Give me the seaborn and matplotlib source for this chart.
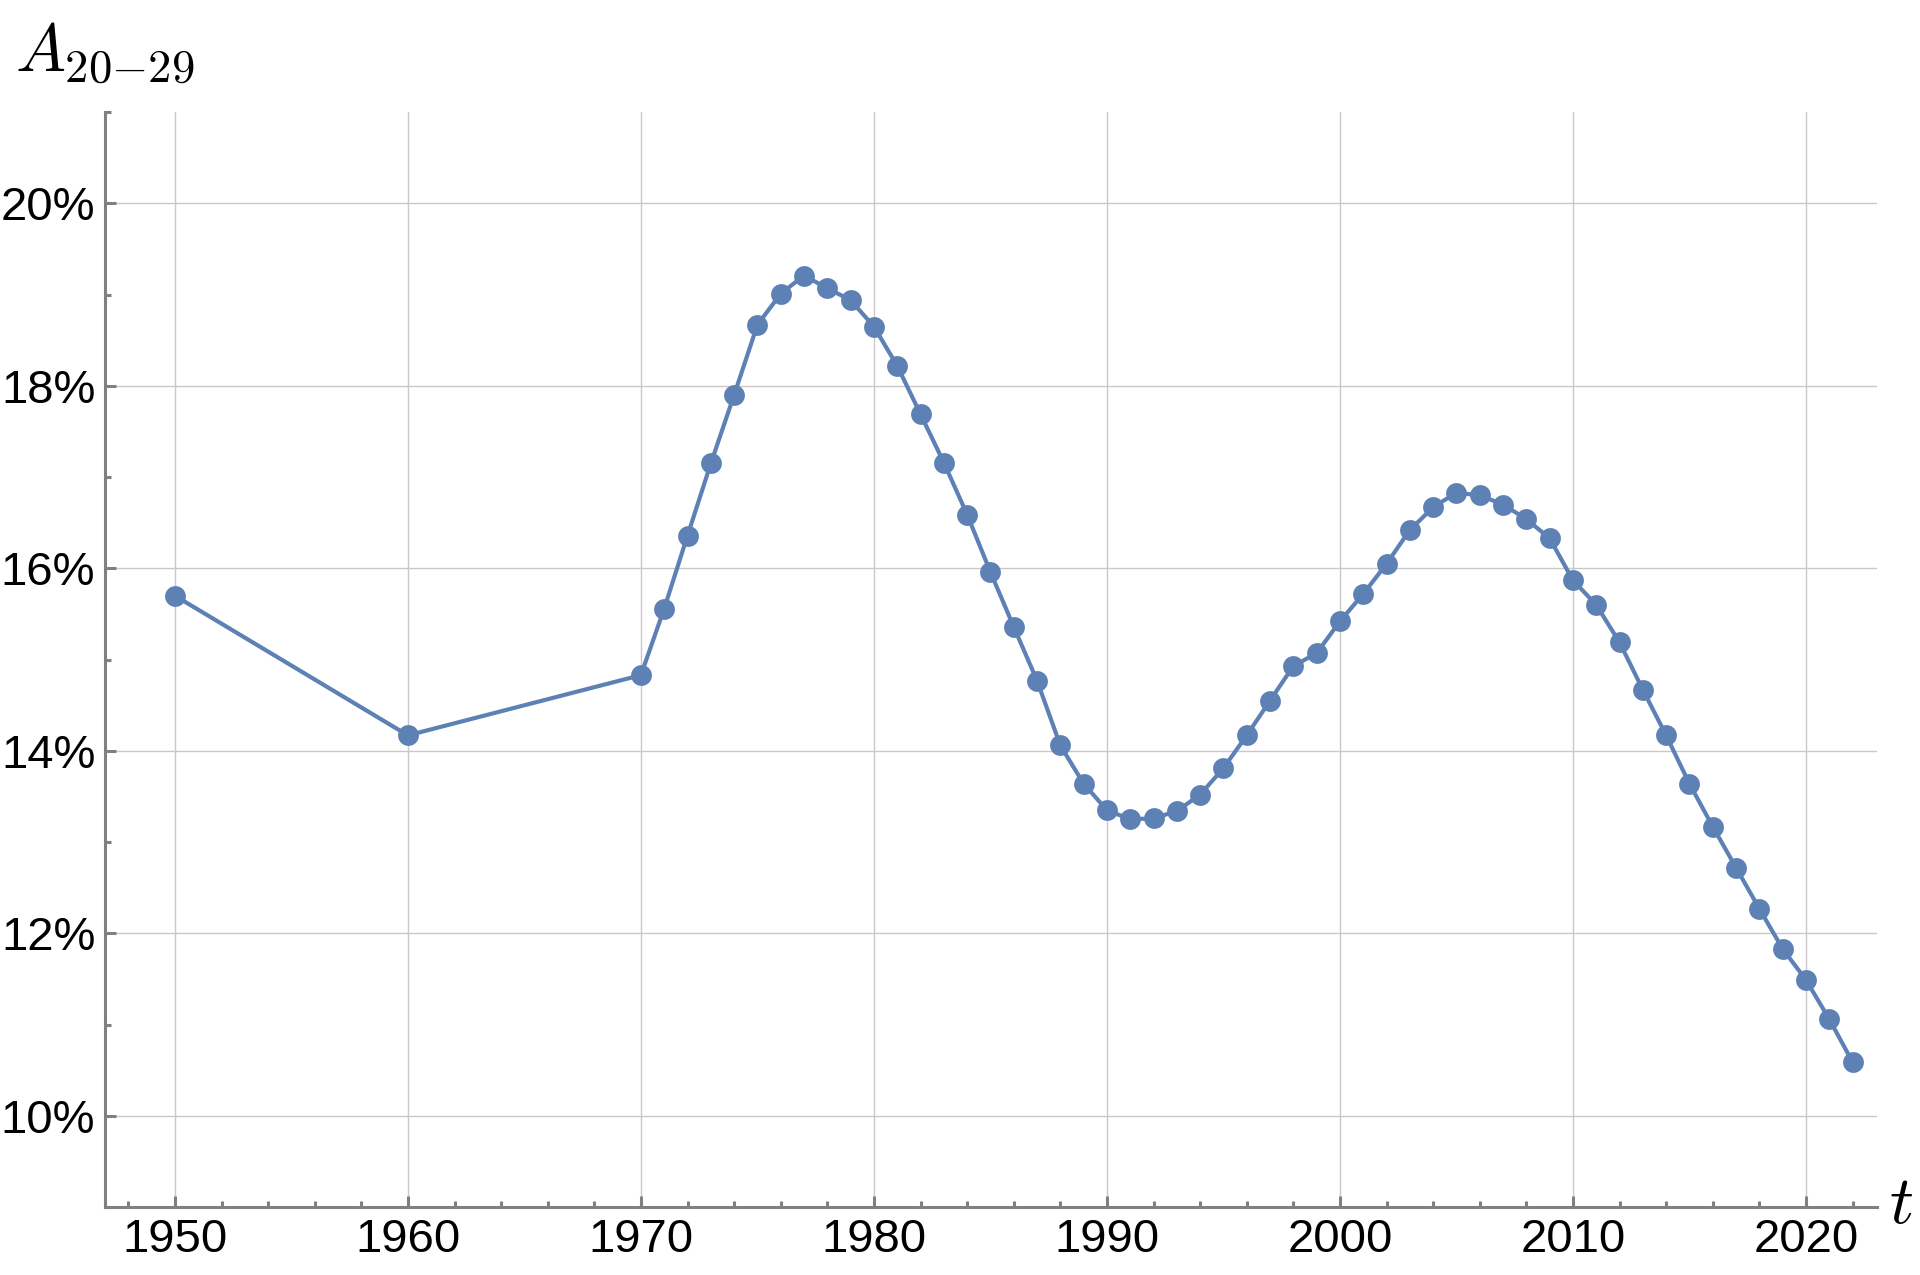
import matplotlib
matplotlib.use("Agg")
import matplotlib.pyplot as plt
import matplotlib.ticker as mticker
import pandas as pd
import seaborn as sns

# years and share of population aged 20-29 (%)
years = [1950, 1960, 1970] + list(range(1971, 2023))
share = [15.70, 14.17, 14.83,
         15.56, 16.36, 17.15, 17.90, 18.67, 19.01, 19.21, 19.07, 18.94, 18.65,
         18.22, 17.69, 17.16, 16.59, 15.96, 15.36, 14.77, 14.06, 13.64, 13.35,
         13.25, 13.26, 13.34, 13.52, 13.81, 14.17, 14.55, 14.93, 15.07, 15.42,
         15.72, 16.05, 16.42, 16.67, 16.83, 16.80, 16.70, 16.54, 16.33, 15.87,
         15.60, 15.19, 14.67, 14.17, 13.64, 13.17, 12.72, 12.27, 11.83, 11.49,
         11.06, 10.59]

df = pd.DataFrame({"t": years, "A": share})

sns.set_style("white")
plt.rcParams["font.family"] = ["Liberation Sans", "DejaVu Sans"]
plt.rcParams["mathtext.fontset"] = "cm"
plt.rcParams["text.color"] = "black"

blue = "#5e81b5"
gray = "#808080"

fig = plt.figure(figsize=(19.2, 12.75), dpi=100)
ax = fig.add_axes([0.0547, 0.0533, 0.9229, 0.8587])

sns.lineplot(data=df, x="t", y="A", ax=ax, color=blue, linewidth=3.0,
             marker="o", markersize=15, markeredgewidth=0, zorder=3)

ax.set_xlim(1947, 2023.05)
ax.set_ylim(9, 21)
ax.xaxis.set_major_locator(mticker.MultipleLocator(10))
ax.xaxis.set_minor_locator(mticker.MultipleLocator(2))
ax.yaxis.set_major_locator(mticker.MultipleLocator(2))
ax.yaxis.set_minor_locator(mticker.MultipleLocator(1))
ax.yaxis.set_major_formatter(mticker.StrMethodFormatter("{x:.0f}%"))

ax.grid(True, which="major", color="#c8c8c8", linewidth=1.0, zorder=0)
for s in ["top", "right"]:
    ax.spines[s].set_visible(False)
for s in ["left", "bottom"]:
    ax.spines[s].set_color(gray)
    ax.spines[s].set_linewidth(2.2)

ax.tick_params(which="both", direction="in", color=gray, width=2.2,
               bottom=True, left=True, labelsize=34, labelcolor="black")
ax.tick_params(which="major", length=8)
ax.tick_params(which="minor", length=4.5)
ax.tick_params(axis="y", pad=7)
ax.tick_params(axis="x", pad=8)
ax.set_xlabel("")
ax.set_ylabel("")

fig.text(0.0078, 0.943, r"$A_{20{-}29}$", fontsize=48, va="baseline",
         ha="left", color="black")
fig.text(0.984, 0.0408, r"$t$", fontsize=48, va="baseline", ha="left",
         color="black")

fig.savefig("out.png", dpi=100)
